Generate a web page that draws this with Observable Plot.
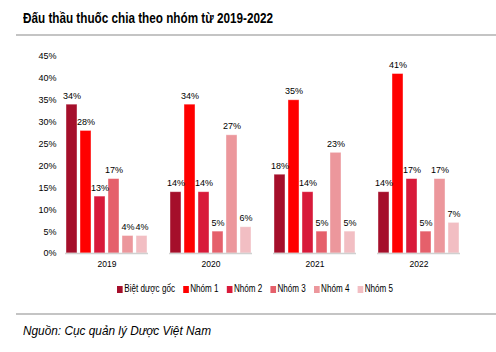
<!DOCTYPE html>
<html><head><meta charset="utf-8">
<script src="https://cdn.jsdelivr.net/npm/d3@7"></script>
<script src="https://cdn.jsdelivr.net/npm/@observablehq/plot@0.6"></script>
<style>
html,body{margin:0;padding:0;background:#fff;}
#wrap{position:relative;width:496px;height:352px;overflow:hidden;font-family:"Liberation Sans",Arial,sans-serif;}
#title{position:absolute;left:23px;top:9px;font-size:15px;font-weight:bold;color:#000;white-space:nowrap;transform-origin:0 0;}
.hline{position:absolute;left:16px;width:480px;height:2px;background:#c4c4c4;}
#chart{position:absolute;left:0;top:40px;}
#legend{position:absolute;left:117px;top:283px;display:flex;gap:10px;font-size:10px;color:#000;white-space:nowrap;transform-origin:0 0;}
#legend span.sw{display:inline-block;width:7px;height:7px;margin-right:2px;vertical-align:-0.5px;}
#caption{position:absolute;left:23px;top:323px;font-size:13px;font-style:italic;color:#000;white-space:nowrap;transform-origin:0 0;}
</style></head>
<body><div id="wrap">
<div id="title">Đấu thầu thuốc chia theo nhóm từ 2019-2022</div>
<div class="hline" style="top:34px"></div>
<div id="chart"></div>
<div id="legend"></div>
<div class="hline" style="top:313px"></div>
<div id="caption">Nguồn: Cục quản lý Dược Việt Nam</div>
</div>
<script>
const years = ["2019", "2020", "2021", "2022"];
const groups = ["Biệt dược gốc", "Nhóm 1", "Nhóm 2", "Nhóm 3", "Nhóm 4", "Nhóm 5"];
const bietDuocGoc = [34, 14, 18, 14];
const nhom1 = [28, 34, 35, 41];
const nhom2 = [13, 14, 14, 17];
const nhom3 = [17, 5, 5, 5];
const nhom4 = [4, 27, 23, 17];
const nhom5 = [4, 6, 5, 7];
const colors = ["#A50F2B", "#FF0000", "#D81A3A", "#E5606B", "#EC979C", "#F2BEC3"];
const yTicks = [0, 5, 10, 15, 20, 25, 30, 35, 40, 45];

const series = [bietDuocGoc, nhom1, nhom2, nhom3, nhom4, nhom5];
const data = [];
years.forEach((y, i) => groups.forEach((g, j) => data.push({year: y, group: g, value: series[j][i]})));

const chart = Plot.plot({
  width: 496,
  height: 235,
  marginTop: 16,
  marginBottom: 22,
  marginLeft: 55,
  marginRight: 25,
  style: {fontFamily: '"Liberation Sans",Arial,sans-serif', fontSize: "9px", color: "#000", background: "transparent"},
  fx: {domain: years, paddingInner: 0.2, paddingOuter: 0.1, label: null},
  x: {domain: groups, padding: 0.2, paddingOuter: 0.05, axis: null},
  y: {domain: [0, 45], label: null},
  color: {domain: groups, range: colors},
  marks: [
    Plot.axisY({ticks: yTicks, tickFormat: d => d + "%", tickSize: 0, tickPadding: 9, label: null}),
    Plot.axisFx({anchor: "bottom", tickSize: 0, tickPadding: 7, label: null, fontSize: 8.5}),
    Plot.barY(data, {fx: "year", x: "group", y: "value", fill: "group", stroke: "#fff", strokeOpacity: 0.5, strokeWidth: 0.8}),
    Plot.text(data, {fx: "year", x: "group", y: "value", text: d => d.value + "%", lineAnchor: "bottom", dy: -6, fontSize: 9}),
    Plot.ruleY([0], {stroke: "#d0d0d0", strokeWidth: 1.5, facetAnchor: null})
  ]
});
document.getElementById("chart").appendChild(chart);

const leg = document.getElementById("legend");
groups.forEach((g, j) => {
  const it = document.createElement("div");
  it.innerHTML = `<span class="sw" style="background:${colors[j]}"></span>${g}`;
  leg.appendChild(it);
});

function fitWidth(id, target) {
  const el = document.getElementById(id);
  const w = el.getBoundingClientRect().width;
  if (w > 0) el.style.transform = `scaleX(${target / w})`;
}
fitWidth("title", 250);
fitWidth("caption", 188);
fitWidth("legend", 276);
</script>
</body></html>
